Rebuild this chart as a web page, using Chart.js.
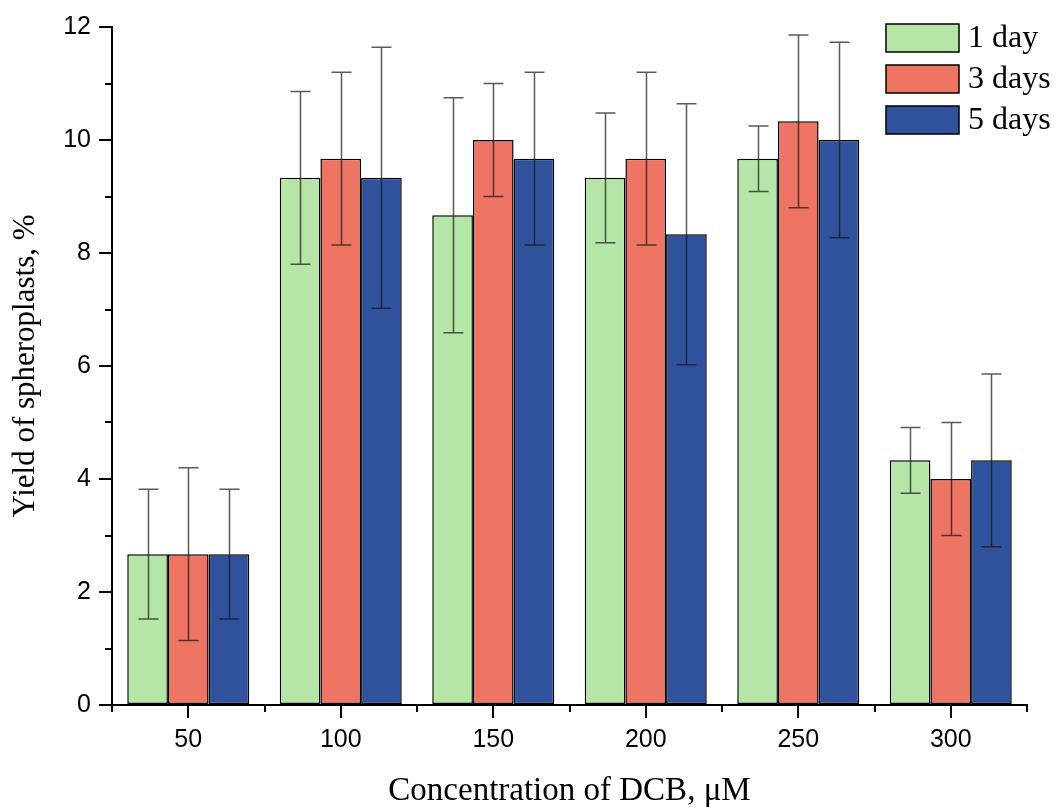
<!DOCTYPE html>
<html>
<head>
<meta charset="utf-8">
<title>Yield of spheroplasts</title>
<script src="https://cdn.jsdelivr.net/npm/chart.js@4.4.1/dist/chart.umd.min.js"></script>
<style>
  html, body { margin: 0; padding: 0; background: #fff; }
  #wrap { width: 1056px; height: 807px; }
</style>
</head>
<body>
<div id="wrap"><canvas id="barChart" width="1056" height="807"></canvas></div>
<script>
// concentration of DCB, uM
const categories = ["50", "100", "150", "200", "250", "300"];
const seriesNames = ["1 day", "3 days", "5 days"];

// mean yield, %
const day1 = [2.67, 9.33, 8.67, 9.33, 9.67, 4.33];
const day3 = [2.67, 9.67, 10.0, 9.67, 10.33, 4.0];
const day5 = [2.67, 9.33, 9.67, 8.33, 10.0, 4.33];

// error bar half-heights
const day1Err = [1.15, 1.53, 2.08, 1.15, 0.58, 0.58];
const day3Err = [1.53, 1.53, 1.0, 1.53, 1.53, 1.0];
const day5Err = [1.15, 2.31, 1.53, 2.31, 1.73, 1.53];

const yTicks = [0, 2, 4, 6, 8, 10, 12];

const colors = ["#B5E6A8", "#EE7463", "#30529C"];
const errors = [day1Err, day3Err, day5Err];

const sansFont = "'Liberation Sans', Arial, sans-serif";
const serifFont = "'Liberation Serif', 'Times New Roman', serif";

// error bars on top of each bar
const errorBars = {
  id: "errorBars",
  afterDatasetsDraw(chart) {
    const ctx = chart.ctx;
    const y = chart.scales.y;
    ctx.save();
    ctx.strokeStyle = "rgba(20,20,20,0.7)";
    ctx.lineWidth = 1.5;
    chart.data.datasets.forEach((ds, di) => {
      const meta = chart.getDatasetMeta(di);
      meta.data.forEach((bar, i) => {
        const v = ds.data[i];
        const e = errors[di][i];
        const top = y.getPixelForValue(v + e);
        const bot = y.getPixelForValue(v - e);
        const cx = Math.round(bar.x) + 0.5;
        ctx.beginPath();
        ctx.moveTo(cx, top);
        ctx.lineTo(cx, bot);
        ctx.moveTo(cx - 10, top);
        ctx.lineTo(cx + 10, top);
        ctx.moveTo(cx - 10, bot);
        ctx.lineTo(cx + 10, bot);
        ctx.stroke();
      });
    });
    ctx.restore();
  },
};

// minor ticks on both axes
const minorTicks = {
  id: "minorTicks",
  afterDraw(chart) {
    const ctx = chart.ctx;
    const x = chart.scales.x;
    const y = chart.scales.y;
    const area = chart.chartArea;
    ctx.save();
    ctx.strokeStyle = "#000";
    ctx.lineWidth = 2;
    ctx.beginPath();
    for (let v = 1; v < 12; v += 2) {
      const py = Math.round(y.getPixelForValue(v));
      ctx.moveTo(area.left, py);
      ctx.lineTo(area.left - 7, py);
    }
    const n = categories.length;
    const step = x.getPixelForValue(1) - x.getPixelForValue(0);
    for (let i = 0; i <= n; i++) {
      const px = Math.round(x.getPixelForValue(0) + (i - 0.5) * step);
      ctx.moveTo(px, area.bottom);
      ctx.lineTo(px, area.bottom + 7);
    }
    ctx.stroke();
    ctx.restore();
  },
};

// legend box in the top right corner
const cornerLegend = {
  id: "cornerLegend",
  afterDraw(chart) {
    const ctx = chart.ctx;
    ctx.save();
    ctx.font = "32px " + serifFont;
    ctx.textBaseline = "middle";
    chart.data.datasets.forEach((ds, i) => {
      const top = 24 + i * 41;
      ctx.fillStyle = ds.backgroundColor;
      ctx.fillRect(886, top, 73, 28);
      ctx.strokeStyle = "#000";
      ctx.lineWidth = 1.5;
      ctx.strokeRect(886, top, 73, 28);
      ctx.fillStyle = "#000";
      ctx.fillText(ds.label, 968, top + 15);
    });
    ctx.restore();
  },
};

const datasets = [day1, day3, day5].map((d, i) => ({
  label: seriesNames[i],
  data: d,
  backgroundColor: colors[i],
  borderColor: "#000",
  borderWidth: 1.5,
  borderSkipped: false,
  categoryPercentage: 0.8,
  barPercentage: 1.0,
}));

new Chart(document.getElementById("barChart"), {
  type: "bar",
  data: { labels: categories, datasets },
  options: {
    responsive: false,
    animation: false,
    layout: { padding: { left: 0, right: 29, top: 27, bottom: 0 } },
    plugins: {
      legend: { display: false },
      tooltip: { enabled: false },
    },
    scales: {
      x: {
        offset: true,
        grid: {
          offset: false,
          drawOnChartArea: false,
          drawTicks: true,
          tickLength: 13,
          color: "#000",
          lineWidth: 2,
        },
        border: { color: "#000", width: 2 },
        ticks: {
          color: "#000",
          font: { family: sansFont, size: 25 },
          padding: 7,
          maxRotation: 0,
        },
        title: {
          display: true,
          text: "Concentration of DCB, μM",
          color: "#000",
          font: { family: serifFont, size: 33 },
          padding: { top: 0, bottom: -4 },
        },
        afterFit(scale) {
          scale.height = 102;
        },
      },
      y: {
        min: 0,
        max: 12,
        afterBuildTicks(scale) {
          scale.ticks = yTicks.map((v) => ({ value: v }));
        },
        grid: {
          drawOnChartArea: false,
          drawTicks: true,
          tickLength: 13,
          color: "#000",
          lineWidth: 2,
        },
        border: { color: "#000", width: 2 },
        ticks: {
          color: "#000",
          font: { family: sansFont, size: 25 },
          padding: 8,
        },
        title: {
          display: true,
          text: "Yield of spheroplasts, %",
          color: "#000",
          font: { family: serifFont, size: 31 },
          padding: { top: 7, bottom: 0 },
        },
        afterFit(scale) {
          scale.width = 112;
        },
      },
    },
  },
  plugins: [errorBars, minorTicks, cornerLegend],
});
</script>
</body>
</html>
